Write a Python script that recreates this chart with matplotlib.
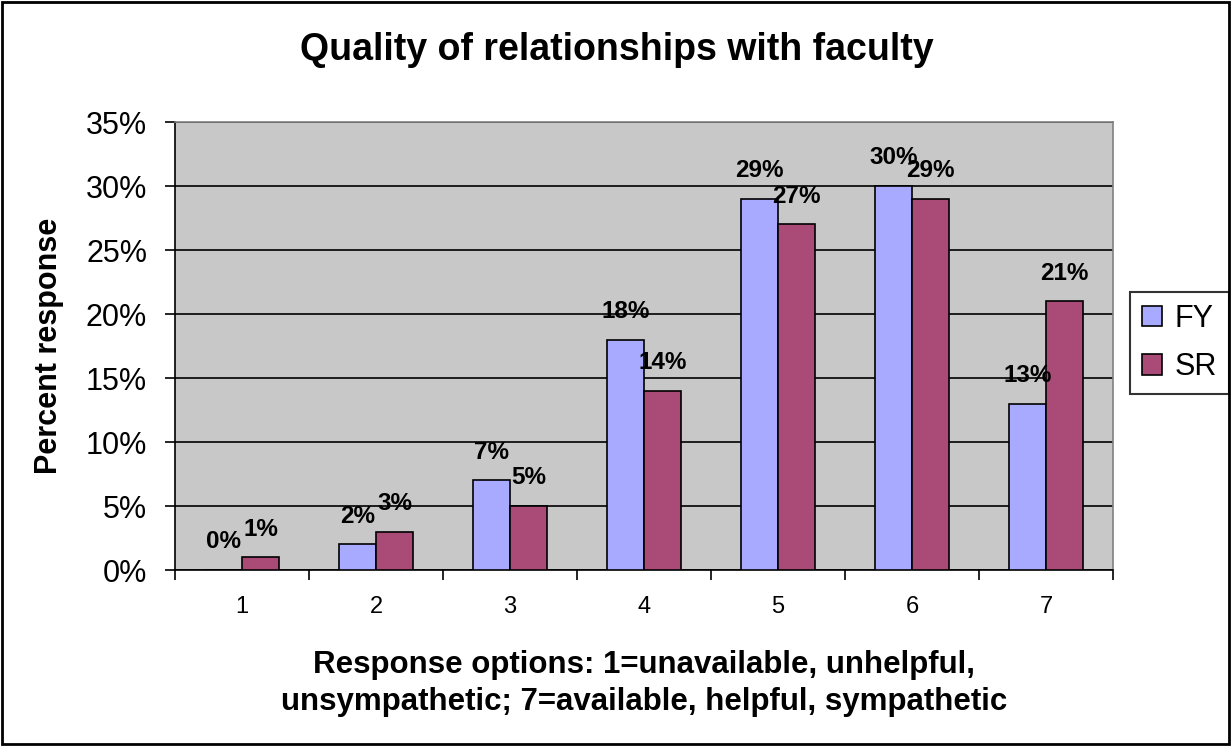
import matplotlib
matplotlib.use("Agg")
import matplotlib.pyplot as plt
import numpy as np

categories = ["1", "2", "3", "4", "5", "6", "7"]
fy = [0, 2, 7, 18, 29, 30, 13]
sr = [1, 3, 5, 14, 27, 29, 21]
yticks = [0, 5, 10, 15, 20, 25, 30, 35]

plt.rcParams['font.family'] = ['Liberation Sans', 'DejaVu Sans']

fig = plt.figure(figsize=(12.31, 7.46), dpi=100)
ax = fig.add_axes([175/1231, 176/746, 938/1231, 448/746])
ax.set_facecolor('#C8C8C8')

x = np.arange(len(categories))
w = 0.278
b1 = ax.bar(x - w/2, fy, w, color='#A8AAFF', edgecolor='black', linewidth=1.2, label='FY', zorder=3)
b2 = ax.bar(x + w/2, sr, w, color='#AA4A76', edgecolor='black', linewidth=1.2, label='SR', zorder=3)

for bars, vals in ((b1, fy), (b2, sr)):
    for rect, v in zip(bars, vals):
        ax.annotate(f"{v}%", (rect.get_x() + rect.get_width()/2, rect.get_height()),
                    xytext=(0, 12), textcoords='offset points', ha='center', va='bottom',
                    fontsize=17.5, fontweight='bold', zorder=4)

ax.set_xlim(-0.5, len(categories) - 0.5)
ax.set_ylim(0, 35)
ax.set_yticks(yticks)
ax.set_yticklabels([f"{t}%" for t in yticks], fontsize=22)
ax.yaxis.grid(True, color='black', linewidth=1.2, zorder=0)
ax.set_axisbelow(True)

ax.set_xticks(x)
ax.set_xticklabels(categories, fontsize=17)
ax.set_xticks(np.arange(-0.5, len(categories)), minor=True)
ax.tick_params(axis='x', which='major', length=0, pad=19)
ax.tick_params(axis='x', which='minor', length=7, width=1.2, direction='out')
ax.tick_params(axis='y', length=7, width=1.2, direction='out', pad=13)

for s in ('top', 'right'):
    ax.spines[s].set_color('#808080')
    ax.spines[s].set_linewidth(1.2)
for s in ('left', 'bottom'):
    ax.spines[s].set_color('black')
    ax.spines[s].set_linewidth(1.2)

ax.set_ylabel("Percent response", fontsize=22, fontweight='bold', labelpad=16)
ax.set_xlabel("Response options: 1=unavailable, unhelpful,\nunsympathetic; 7=available, helpful, sympathetic",
              fontsize=22.5, fontweight='bold', labelpad=23, linespacing=1.3)
fig.text(617/1231, 1 - 50/746, "Quality of relationships with faculty", ha='center', va='center',
         fontsize=27, fontweight='bold')

leg = ax.legend(loc='center left', bbox_to_anchor=((1130 - 175)/938, (570 - 343)/448), fontsize=22,
                frameon=True, fancybox=False, edgecolor='black', handlelength=0.65, handleheight=0.65,
                handletextpad=0.4, borderpad=0.4, labelspacing=0.6, borderaxespad=0)
leg.get_frame().set_linewidth(1.5)

border = plt.Rectangle((0.002, 0.003), 0.996, 0.994, transform=fig.transFigure, fill=False,
                       edgecolor='black', linewidth=2)
fig.patches.append(border)

fig.savefig("out.png", dpi=100, facecolor='white')
